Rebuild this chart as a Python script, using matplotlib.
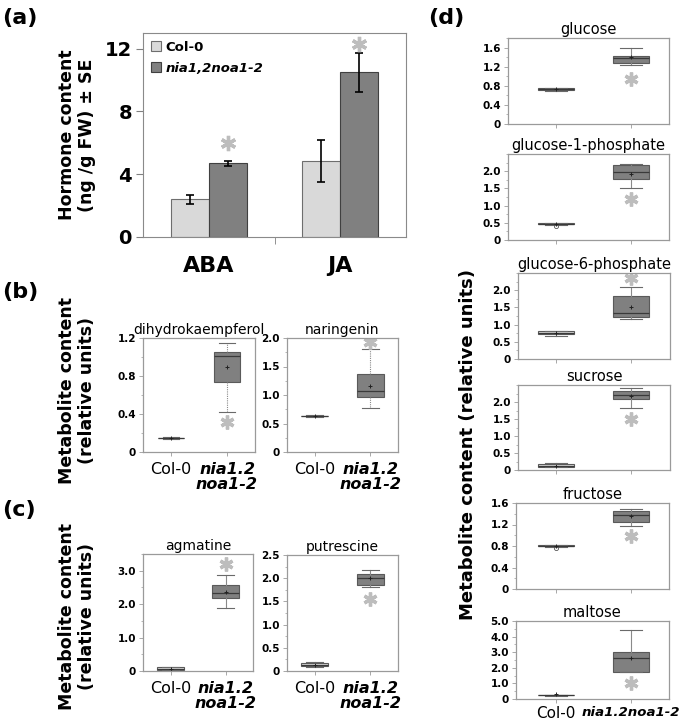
import numpy as np
import matplotlib.pyplot as plt
from matplotlib.ticker import AutoMinorLocator, FixedLocator, FuncFormatter

plt.rcParams['font.family'] = ['DejaVu Sans']

W, H = 685, 723
fig = plt.figure(figsize=(W / 100, H / 100), dpi=100)

# ---- data -------------------------------------------------------------
# (a) hormones
hormones = ['ABA', 'JA']
col0_mean = [2.4, 4.85]
col0_se = [0.3, 1.35]
nia_mean = [4.7, 10.5]
nia_se = [0.15, 1.25]
hormone_star = [6.0, 12.3]

# box stats: (whislo, q1, med, q3, whishi, mean)
# (b) flavonoids
b_names = ['dihydrokaempferol', 'naringenin']
b_col0 = [(0.14, 0.148, 0.15, 0.152, 0.16, 0.15), (0.61, 0.628, 0.63, 0.632, 0.65, 0.63)]
b_nia = [(0.42, 0.74, 1.01, 1.05, 1.15, 0.9), (0.78, 0.97, 1.07, 1.37, 1.8, 1.16)]
b_star = [0.32, 1.93]
b_ymax = [1.2, 2.0]
b_step = [0.4, 0.5]

# (c) polyamines
c_names = ['agmatine', 'putrescine']
c_col0 = [(0.03, 0.04, 0.06, 0.12, 0.13, 0.07), (0.09, 0.1, 0.14, 0.18, 0.2, 0.14)]
c_nia = [(1.87, 2.18, 2.33, 2.57, 2.88, 2.35), (1.8, 1.85, 2.0, 2.1, 2.18, 2.0)]
c_star = [3.2, 1.55]
c_ymax = [3.5, 2.5]
c_step = [1.0, 0.5]

# (d) sugars
d_names = ['glucose', 'glucose-1-phosphate', 'glucose-6-phosphate',
           'sucrose', 'fructose', 'maltose']
d_col0 = [(0.70, 0.71, 0.73, 0.75, 0.76, 0.73),
          (0.45, 0.46, 0.47, 0.48, 0.49, 0.47),
          (0.68, 0.72, 0.75, 0.80, 0.82, 0.77),
          (0.08, 0.10, 0.13, 0.17, 0.20, 0.13),
          (0.79, 0.795, 0.80, 0.81, 0.82, 0.80),
          (0.22, 0.23, 0.25, 0.27, 0.28, 0.30)]
d_col0_fliers = [[], [0.40], [], [], [0.76], []]
d_nia = [(1.24, 1.28, 1.38, 1.43, 1.60, 1.41),
         (1.50, 1.77, 1.97, 2.18, 2.22, 1.92),
         (1.15, 1.22, 1.35, 1.83, 2.08, 1.50),
         (1.82, 2.08, 2.20, 2.32, 2.40, 2.18),
         (1.17, 1.24, 1.37, 1.46, 1.48, 1.35),
         (1.70, 1.75, 2.60, 3.00, 4.40, 2.65)]
d_star = [0.95, 1.2, 2.35, 1.5, 0.98, 1.0]
d_ymax = [1.8, 2.5, 2.5, 2.5, 1.6, 5.0]
d_step = [0.4, 0.5, 0.5, 0.5, 0.4, 1.0]
d_top_tick = [1.6, 2.0, 2.0, 2.0, 1.6, 5.0]

STAR = '#bdbdbd'
LIGHT = '#d9d9d9'
DARK = '#808080'
SPINE = '#9a9a9a'


def axes_px(l, t, r, b):
    return fig.add_axes([l / W, 1 - b / H, (r - l) / W, (b - t) / H])


def fmt(v, pos):
    return '0' if abs(v) < 1e-9 else '%.1f' % v


def star(ax, xs, ys, size=10):
    ax.plot(xs, ys, marker=(6, 2, 0), markersize=size, markeredgewidth=2.4,
            color=STAR, linestyle='none')


def box_panel(ax, title, col0, nia, st, ymax, step, top_tick=None,
              fliers=None, dotted=False, title_size=10.5):
    stats = []
    for s, fl in ((col0, fliers or []), (nia, [])):
        stats.append(dict(whislo=s[0], q1=s[1], med=s[2], q3=s[3],
                          whishi=s[4], mean=s[5], fliers=fl))
    ls = (0, (1, 1)) if dotted else '-'
    bp = ax.bxp(stats, positions=[1, 2], widths=0.48, capwidths=0.3,
                patch_artist=True, showmeans=True,
                boxprops=dict(edgecolor='#5a5a5a', linewidth=0.8),
                whiskerprops=dict(color='#8a8a8a', linewidth=0.8, linestyle=ls),
                capprops=dict(color='#6a6a6a', linewidth=0.8),
                medianprops=dict(color='#3a3a3a', linewidth=0.9),
                meanprops=dict(marker='+', markersize=3.5, markeredgecolor='#222222',
                               markeredgewidth=0.7),
                flierprops=dict(marker='o', markersize=3, markerfacecolor='none',
                                markeredgecolor='#555555', markeredgewidth=0.6))
    bp['boxes'][0].set_facecolor(LIGHT)
    bp['boxes'][1].set_facecolor(DARK)
    star(ax, [2], [st])
    ax.set_ylim(0, ymax)
    top = top_tick if top_tick is not None else ymax
    ax.yaxis.set_major_locator(FixedLocator(np.arange(0, top + 1e-6, step)))
    ax.yaxis.set_major_formatter(FuncFormatter(fmt))
    ax.yaxis.set_minor_locator(AutoMinorLocator(2))
    ax.set_xticks([1, 2])
    ax.set_xticklabels([])
    ax.tick_params(axis='y', which='major', length=3, width=0.6, color=SPINE,
                   labelsize=7.5, pad=2)
    ax.tick_params(axis='y', which='minor', length=1.5, width=0.5, color=SPINE)
    ax.tick_params(axis='x', length=3, width=0.6, color=SPINE)
    for lab in ax.get_yticklabels():
        lab.set_fontweight('bold')
    for sp in ax.spines.values():
        sp.set_color(SPINE)
        sp.set_linewidth(0.9)
    ax.set_title(title, fontsize=title_size, pad=3)


# ---- (a) --------------------------------------------------------------
ax = axes_px(143, 33, 406, 237)
x = np.arange(len(hormones))
bw = 0.29
ax.bar(x - bw / 2, col0_mean, bw, yerr=col0_se, color=LIGHT, edgecolor='#6e6e6e',
       linewidth=0.8, capsize=3, error_kw=dict(elinewidth=1.2, capthick=1.2),
       label='Col-0')
ax.bar(x + bw / 2, nia_mean, bw, yerr=nia_se, color=DARK, edgecolor='#404040',
       linewidth=0.8, capsize=3, error_kw=dict(elinewidth=1.2, capthick=1.2),
       label='nia1,2noa1-2')
star(ax, x + bw / 2, hormone_star, size=11)
ax.set_xlim(-0.5, 1.5)
ax.set_ylim(0, 13)
ax.set_yticks([0, 4, 8, 12])
ax.set_xticks(x)
ax.set_xticklabels(hormones, fontsize=16, fontweight='bold')
ax.set_xticks([0.5], minor=True)
ax.tick_params(axis='x', which='major', length=0, pad=14)
ax.tick_params(axis='x', which='minor', length=5, color='#808080')
ax.tick_params(axis='y', length=5, color='#808080', labelsize=14, pad=3)
for lab in ax.get_yticklabels():
    lab.set_fontweight('bold')
for sp in ax.spines.values():
    sp.set_color('#8a8a8a')
ax.set_ylabel('Hormone content\n(ng /g FW) ± SE', fontsize=12.5,
              fontweight='bold', labelpad=6)
leg = ax.legend(loc='upper left', frameon=False, fontsize=9.5, handlelength=0.8,
                handleheight=0.8, handletextpad=0.3, borderaxespad=0.2,
                labelspacing=0.6)
for t in leg.get_texts():
    t.set_fontweight('bold')
leg.get_texts()[1].set_fontstyle('italic')

# ---- (b) and (c) ------------------------------------------------------
b_boxes = [(143, 338, 255, 452), (287, 338, 398, 452)]
c_boxes = [(143, 554, 253, 671), (287, 555, 398, 671)]
for boxes, names, c0, ni, st, ym, sp_, dotted in (
        (b_boxes, b_names, b_col0, b_nia, b_star, b_ymax, b_step, True),
        (c_boxes, c_names, c_col0, c_nia, c_star, c_ymax, c_step, False)):
    for i, r in enumerate(boxes):
        a = axes_px(*r)
        box_panel(a, names[i], c0[i], ni[i], st[i], ym[i], sp_[i],
                  dotted=dotted, title_size=10)
        a.set_xlim(0.5, 2.5)
        a.set_xticks([1, 2])
        a.set_xticklabels(['Col-0', 'nia1.2\nnoa1-2'], fontsize=11.5,
                          linespacing=1.05)
        a.tick_params(axis='x', pad=4)
        a.get_xticklabels()[1].set_fontweight('bold')
        a.get_xticklabels()[1].set_fontstyle('italic')

fig.text(77 / W, 1 - 390 / H, 'Metabolite content\n(relative units)', rotation=90,
         fontsize=12.5, fontweight='bold', ha='center', va='center')
fig.text(77 / W, 1 - 617 / H, 'Metabolite content\n(relative units)', rotation=90,
         fontsize=12.5, fontweight='bold', ha='center', va='center')

# ---- (d) --------------------------------------------------------------
d_boxes = [(508, 38, 669, 124), (508, 154, 669, 240), (518, 273, 670, 359),
           (518, 385, 670, 470), (516, 503, 669, 589), (516, 621, 669, 699)]
for i, r in enumerate(d_boxes):
    a = axes_px(*r)
    box_panel(a, d_names[i], d_col0[i], d_nia[i], d_star[i], d_ymax[i],
              d_step[i], top_tick=d_top_tick[i], fliers=d_col0_fliers[i],
              title_size=10.5)
    # categories sit at pixels 556 and 631
    a.set_xlim(1 - (556 - r[0]) / 75, 2 + (r[2] - 631) / 75)
    if i == len(d_boxes) - 1:
        a.set_xticklabels(['Col-0', 'nia1.2noa1-2'], fontsize=11)
        a.get_xticklabels()[1].set_fontsize(9.6)
        a.get_xticklabels()[1].set_fontweight('bold')
        a.get_xticklabels()[1].set_fontstyle('italic')
        a.tick_params(axis='x', pad=2)

fig.text(468 / W, 1 - 445 / H, 'Metabolite content (relative units)', rotation=90,
         fontsize=13, fontweight='bold', ha='center', va='center')

# ---- panel letters ----------------------------------------------------
for lab, px, py in (('(a)', 2, 18), ('(b)', 2, 292), ('(c)', 2, 510), ('(d)', 428, 18)):
    fig.text(px / W, 1 - py / H, lab, fontsize=16, fontweight='bold',
             ha='left', va='center')

fig.savefig('out.png', dpi=100)
